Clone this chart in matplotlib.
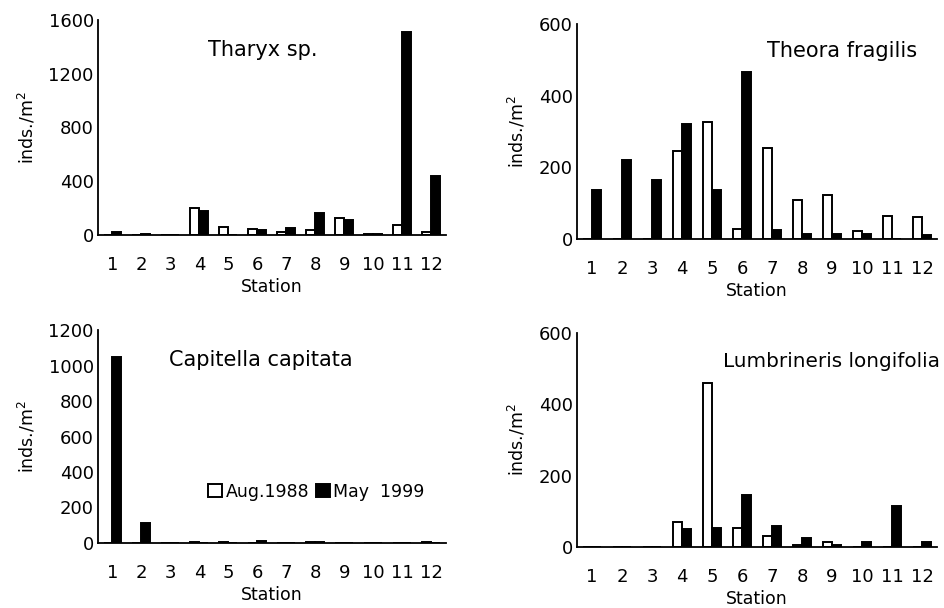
"""Macrobenthos densities per station: Aug. 1988 vs May 1999, four species."""
import matplotlib

matplotlib.use("Agg")
import matplotlib.pyplot as plt
import numpy as np

plt.rcParams["font.family"] = ["DejaVu Sans"]

stations = [str(i) for i in range(1, 13)]

tharyx_aug = [0, 3, 0, 200, 60, 45, 20, 35, 125, 5, 75, 25]
tharyx_may = [25, 5, 0, 180, 3, 35, 55, 165, 115, 5, 1510, 435]

theora_aug = [0, 0, 0, 245, 326, 28, 255, 109, 124, 23, 65, 60]
theora_may = [137, 220, 165, 322, 137, 467, 25, 14, 14, 13, 0, 12]

capitella_aug = [0, 0, 2, 3, 3, 2, 2, 3, 2, 2, 2, 3]
capitella_may = [1050, 110, 0, 2, 2, 10, 2, 3, 2, 2, 2, 2]

lumbrineris_aug = [0, 0, 0, 69, 460, 52, 30, 5, 15, 0, 0, 0]
lumbrineris_may = [0, 0, 0, 50, 53, 147, 58, 24, 5, 14, 116, 14]

panels = [
    # name, aug, may, ymax, ystep, axes rect, title pos, title size
    ("Tharyx sp.", tharyx_aug, tharyx_may, 1600, 400,
     [0.1037, 0.6135, 0.368, 0.354], (0.475, 0.86), 15),
    ("Theora fragilis", theora_aug, theora_may, 600, 200,
     [0.6106, 0.607, 0.381, 0.3535], (0.736, 0.875), 15),
    ("Capitella capitata", capitella_aug, capitella_may, 1200, 200,
     [0.1037, 0.107, 0.368, 0.350], (0.467, 0.86), 15),
    ("Lumbrineris longifolia", lumbrineris_aug, lumbrineris_may, 600, 200,
     [0.6106, 0.1003, 0.381, 0.352], (0.706, 0.865), 14.4),
]

fig = plt.figure(figsize=(9.45, 6.08), dpi=100)
x = np.arange(1, 13)
w = 0.31

for name, aug, may, ymax, ystep, rect, tpos, tsize in panels:
    ax = fig.add_axes(rect)
    ax.bar(x - w / 2, aug, width=w, color="white", edgecolor="black",
           linewidth=1.4, label="Aug.1988")
    ax.bar(x + w / 2, may, width=w, color="black", edgecolor="black",
           linewidth=1.4, label="May  1999")
    ax.set_xlim(0.5, 12.5)
    ax.set_ylim(0, ymax)
    ax.set_yticks(np.arange(0, ymax + 1, ystep))
    ax.set_xticks(x)
    ax.set_xticklabels(stations)
    for s in ("top", "right"):
        ax.spines[s].set_visible(False)
    for s in ("left", "bottom"):
        ax.spines[s].set_linewidth(1.3)
    ax.tick_params(axis="both", length=0, labelsize=13)
    ax.tick_params(axis="x", pad=15)
    ax.tick_params(axis="y", pad=3)
    ax.set_xlabel("Station", fontsize=12.5, labelpad=3)
    ax.set_ylabel("inds./m$^2$", fontsize=12.5, labelpad=8)
    ax.text(tpos[0], tpos[1], name, transform=ax.transAxes, ha="center",
            va="center", fontsize=tsize, clip_on=False)
    if name.startswith("Capitella"):
        ax.legend(loc="center", bbox_to_anchor=(0.628, 0.24), frameon=False,
                  fontsize=12.5, handlelength=0.8, handleheight=0.8,
                  handletextpad=0.2, columnspacing=0.4, ncol=2,
                  borderaxespad=0)

fig.savefig("out.png", dpi=100)
